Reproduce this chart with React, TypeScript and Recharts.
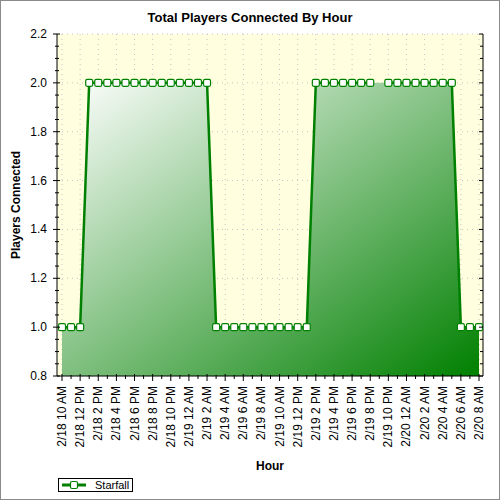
import React from 'react';
import { ComposedChart, Area, Line, XAxis, YAxis, CartesianGrid } from 'recharts';

const hours = [
  '2/18 10 AM', '2/18 11 AM', '2/18 12 PM', '2/18 1 PM', '2/18 2 PM', '2/18 3 PM',
  '2/18 4 PM', '2/18 5 PM', '2/18 6 PM', '2/18 7 PM', '2/18 8 PM', '2/18 9 PM',
  '2/18 10 PM', '2/18 11 PM', '2/19 12 AM', '2/19 1 AM', '2/19 2 AM', '2/19 3 AM',
  '2/19 4 AM', '2/19 5 AM', '2/19 6 AM', '2/19 7 AM', '2/19 8 AM', '2/19 9 AM',
  '2/19 10 AM', '2/19 11 AM', '2/19 12 PM', '2/19 1 PM', '2/19 2 PM', '2/19 3 PM',
  '2/19 4 PM', '2/19 5 PM', '2/19 6 PM', '2/19 7 PM', '2/19 8 PM', '2/19 9 PM',
  '2/19 10 PM', '2/19 11 PM', '2/20 12 AM', '2/20 1 AM', '2/20 2 AM', '2/20 3 AM',
  '2/20 4 AM', '2/20 5 AM', '2/20 6 AM', '2/20 7 AM', '2/20 8 AM',
];

// 2/19 9 PM has no sample
const starfall: (number | null)[] = [
  1, 1, 1,
  2, 2, 2, 2, 2, 2, 2, 2, 2, 2, 2, 2, 2, 2,
  1, 1, 1, 1, 1, 1, 1, 1, 1, 1, 1,
  2, 2, 2, 2, 2, 2, 2,
  null,
  2, 2, 2, 2, 2, 2, 2, 2,
  1, 1, 1,
];

const yMajor = [0.8, 1.0, 1.2, 1.4, 1.6, 1.8, 2.0, 2.2];
const yMinor = Array.from({ length: 29 }, (_, k) => +(0.8 + k * 0.05).toFixed(2));
const xAll = hours.map((_, i) => i);
const xMajor = xAll.filter((i) => i % 2 === 0);

const data = hours.map((hour, i) => ({
  i,
  hour,
  players: starfall[i],
}));

const FONT = '"Liberation Sans", Arial, sans-serif';
const GREEN = '#008000';

const isMajorY = (v: number) => Math.abs(v * 5 - Math.round(v * 5)) < 1e-6;

const BottomTick = (props: any) => {
  const { x, y, payload } = props;
  const major = payload.value % 2 === 0;
  const ty = y + 10;
  return (
    <g>
      <line x1={x} x2={x} y1={y - (major ? 2 : 1)} y2={y + (major ? 5 : 3)} stroke="#000" />
      {major && (
        <text
          x={x}
          y={ty}
          transform={`rotate(-90 ${x} ${ty})`}
          textAnchor="end"
          dominantBaseline="central"
          fontFamily={FONT}
          fontSize={12}
          fill="#000"
        >
          {hours[payload.value]}
        </text>
      )}
    </g>
  );
};

const TopTick = (props: any) => {
  const { x, y } = props;
  return <line x1={x} x2={x} y1={y - 3} y2={y} stroke="#000" />;
};

const LeftTick = (props: any) => {
  const { x, y, payload } = props;
  const major = isMajorY(payload.value);
  return (
    <g>
      <line x1={x - (major ? 4 : 2)} x2={x + (major ? 3 : 2)} y1={y} y2={y} stroke="#000" />
      {major && (
        <text
          x={x - 10}
          y={y}
          textAnchor="end"
          dominantBaseline="central"
          fontFamily={FONT}
          fontSize={12}
          fill="#000"
        >
          {payload.value.toFixed(1)}
        </text>
      )}
    </g>
  );
};

const RightTick = (props: any) => {
  const { x, y, payload } = props;
  const major = isMajorY(payload.value);
  return <line x1={x - (major ? 4 : 3)} x2={x} y1={y} y2={y} stroke="#000" />;
};

const SquareDot = (props: any) => {
  const { cx, cy, index } = props;
  if (cy == null || isNaN(cy)) return <g key={`d-${index}`} />;
  return (
    <rect
      key={`d-${index}`}
      x={cx - 3.5}
      y={cy - 3.5}
      width={7}
      height={7}
      rx={1.5}
      fill="#fff"
      stroke={GREEN}
      strokeWidth={1.2}
    />
  );
};

const App: React.FC = () => {
  return (
    <div style={{ position: 'absolute', left: 0, top: 0, width: 500, height: 500, background: '#fff', fontFamily: FONT }}>
      <ComposedChart
        width={500}
        height={500}
        data={data}
        margin={{ top: 34, right: 0, bottom: 44, left: 12 }}
      >
        <defs>
          <linearGradient id="starfallFill" x1="0" y1="0" x2="1" y2="1">
            <stop offset="0%" stopColor="#ffffff" />
            <stop offset="100%" stopColor={GREEN} />
          </linearGradient>
        </defs>
        <CartesianGrid
          fill="#ffffe0"
          stroke="#c4c4c4"
          strokeDasharray="1 4"
          horizontalValues={yMajor}
          verticalValues={xMajor}
        />
        <XAxis
          dataKey="i"
          type="number"
          domain={[0, 46]}
          ticks={xAll}
          interval={0}
          padding={{ left: 5, right: 4 }}
          height={80}
          tickSize={0}
          tickMargin={0}
          tickLine={false}
          axisLine={{ stroke: '#000' }}
          tick={<BottomTick />}
          label={{ value: 'Hour', position: 'insideBottom', offset: -14, style: { fontFamily: FONT, fontSize: 12, fontWeight: 'bold', fill: '#000' } }}
        />
        <XAxis
          xAxisId="top"
          orientation="top"
          dataKey="i"
          type="number"
          domain={[0, 46]}
          ticks={xAll}
          interval={0}
          padding={{ left: 5, right: 4 }}
          height={0}
          tickSize={0}
          tickMargin={0}
          tickLine={false}
          axisLine={{ stroke: '#000' }}
          tick={<TopTick />}
        />
        <YAxis
          type="number"
          domain={[0.8, 2.2]}
          ticks={yMinor}
          interval={0}
          width={45}
          tickSize={0}
          tickMargin={0}
          tickLine={false}
          allowDataOverflow
          axisLine={{ stroke: '#000' }}
          tick={<LeftTick />}
          label={{ value: 'Players Connected', angle: -90, position: 'insideLeft', offset: 4, style: { textAnchor: 'middle', fontFamily: FONT, fontSize: 12, fontWeight: 'bold', fill: '#000' } }}
        />
        <YAxis
          yAxisId="right"
          orientation="right"
          type="number"
          domain={[0.8, 2.2]}
          ticks={yMinor}
          interval={0}
          width={17}
          tickSize={0}
          tickMargin={0}
          tickLine={false}
          allowDataOverflow
          axisLine={{ stroke: '#000' }}
          tick={<RightTick />}
        />
        <Area
          type="linear"
          dataKey="players"
          connectNulls
          stroke="none"
          fill="url(#starfallFill)"
          fillOpacity={1}
          isAnimationActive={false}
          dot={false}
          activeDot={false}
        />
        <Line
          type="linear"
          dataKey="players"
          stroke={GREEN}
          strokeWidth={2.5}
          dot={<SquareDot />}
          activeDot={false}
          isAnimationActive={false}
        />
      </ComposedChart>

      <div
        style={{
          position: 'absolute', left: 0, top: 10, width: 500, textAlign: 'center',
          fontSize: 13, fontWeight: 'bold', color: '#000',
        }}
      >
        Total Players Connected By Hour
      </div>

      <div
        style={{
          position: 'absolute', left: 58, top: 478, width: 73, height: 12,
          border: '1px solid #000', display: 'flex', alignItems: 'center', background: '#fff',
        }}
      >
        <svg width={28} height={10} style={{ marginLeft: 3 }}>
          <line x1={0} x2={24} y1={5} y2={5} stroke={GREEN} strokeWidth={3} />
          <rect x={8.5} y={1.5} width={7} height={7} rx={1.5} fill="#fff" stroke={GREEN} strokeWidth={1.2} />
        </svg>
        <span style={{ fontSize: 11, marginLeft: 5, color: '#000' }}>Starfall</span>
      </div>

      <div
        style={{
          position: 'absolute', left: 0, top: 0, width: 500, height: 500,
          boxSizing: 'border-box', border: '1px solid #8a8a8a', pointerEvents: 'none',
        }}
      />
    </div>
  );
};

export default App;
